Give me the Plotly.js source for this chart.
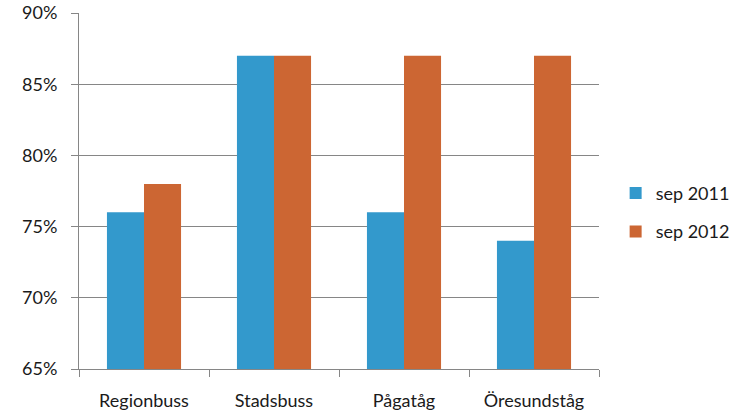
<!DOCTYPE html>
<html><head><meta charset="utf-8">
<script src="https://cdn.plot.ly/plotly-3.0.1.min.js"></script>
<style>body{margin:0;background:#fff}#c{width:746px;height:419px}</style>
</head><body><div id="c"></div>
<script>
const categories = ['Regionbuss', 'Stadsbuss', 'Pågatåg', 'Öresundståg'];
const sep2011 = [0.76, 0.87, 0.76, 0.74];
const sep2012 = [0.78, 0.87, 0.87, 0.87];
const seriesNames = ['sep 2011', 'sep 2012'];

const font = {family: 'Lato, "Open Sans", sans-serif', size: 18, color: '#1a1a1a'};
const data = [
  {type: 'bar', name: seriesNames[0], x: categories, y: sep2011, marker: {color: '#3399CC'}, legendgroup: 'a'},
  {type: 'bar', name: seriesNames[1], x: categories, y: sep2012, marker: {color: '#CC6633'}, legendgroup: 'b'}
];
const layout = {
  width: 746, height: 419,
  margin: {l: 79, r: 146, t: 13, b: 50},
  paper_bgcolor: '#fff', plot_bgcolor: '#fff',
  font: font,
  barmode: 'group', bargap: 0.43, bargroupgap: 0,
  showlegend: true,
  legend: {x: 1.03, y: 0.44, xanchor: 'left', yanchor: 'middle', font: font, tracegroupgap: 12, traceorder: 'grouped'},
  xaxis: {
    type: 'category', showline: true, linecolor: '#868686', linewidth: 1,
    ticks: 'outside', tickson: 'boundaries', ticklen: 7, tickcolor: '#868686',
    ticklabelstandoff: 15, showgrid: false
  },
  yaxis: {
    range: [0.65, 0.9], dtick: 0.05, tickformat: '.0%',
    showline: true, linecolor: '#868686', linewidth: 1,
    ticks: 'outside', ticklen: 7, tickcolor: '#868686',
    showgrid: true, gridcolor: '#868686', gridwidth: 1, zeroline: false,
    ticklabelstandoff: 10
  }
};
Plotly.newPlot('c', data, layout, {displayModeBar: false, staticPlot: true});
</script></body></html>
